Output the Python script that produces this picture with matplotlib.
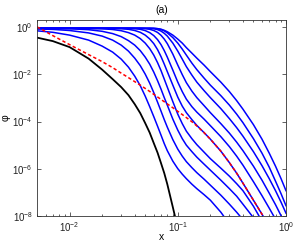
import numpy as np
import matplotlib
matplotlib.use("Agg")
import matplotlib.pyplot as plt
from matplotlib.ticker import LogLocator, NullLocator, NullFormatter

plt.rcParams['font.family'] = ['Liberation Sans', 'DejaVu Sans']

# x positions where the curves were read
x = [0.005, 0.007, 0.01, 0.015, 0.02, 0.025, 0.03, 0.035, 0.04, 0.045, 0.05,
     0.055, 0.06, 0.065, 0.07, 0.075, 0.08, 0.09, 0.1, 0.11, 0.12, 0.135, 0.15,
     0.175, 0.2, 0.25, 0.3, 0.35, 0.4, 0.5, 0.6, 0.7, 0.8, 0.9, 1.0]

# log10(phi), one list per curve (left to right)
lg_b1 = [-0.157, -0.220, -0.339, -0.551, -0.805, -1.059, -1.356, -1.695, -2.076,
         -2.479, -2.924, -3.369, -3.792, -4.195, -4.576, -4.936, -5.233, -5.678,
         -5.996, -6.229, -6.419, -6.653, -6.843, -7.097, -7.331, -7.839, -8.347]
lg_b2 = [-0.076, -0.097, -0.144, -0.246, -0.381, -0.551, -0.763, -1.017, -1.314,
         -1.631, -1.992, -2.373, -2.775, -3.178, -3.559, -3.919, -4.237, -4.767,
         -5.169, -5.466, -5.699, -5.953, -6.165, -6.441, -6.695, -7.119, -7.500,
         -7.839, -8.157]
lg_b3 = [-0.051, -0.055, -0.068, -0.110, -0.178, -0.275, -0.403, -0.572, -0.763,
         -0.996, -1.271, -1.568, -1.907, -2.267, -2.627, -2.987, -3.305, -3.898,
         -4.364, -4.725, -5.000, -5.275, -5.508, -5.805, -6.059, -6.483, -6.843,
         -7.161, -7.500, -8.072]
lg_b4 = [-0.051, -0.051, -0.051, -0.051, -0.068, -0.102, -0.153, -0.233, -0.339,
         -0.487, -0.678, -0.911, -1.186, -1.504, -1.843, -2.203, -2.542, -3.157,
         -3.686, -4.089, -4.407, -4.725, -4.979, -5.297, -5.572, -5.975, -6.314,
         -6.631, -6.928, -7.585, -8.220]
lg_b5 = [-0.051, -0.051, -0.051, -0.051, -0.051, -0.051, -0.064, -0.093, -0.144,
         -0.220, -0.339, -0.500, -0.699, -0.953, -1.250, -1.568, -1.886, -2.458,
         -2.966, -3.347, -3.623, -3.919, -4.165, -4.470, -4.746, -5.254, -5.742,
         -6.186, -6.610, -7.331, -7.924, -8.453]
lg_b6 = [-0.051, -0.051, -0.051, -0.051, -0.051, -0.051, -0.051, -0.051, -0.064,
         -0.093, -0.148, -0.233, -0.360, -0.530, -0.742, -0.996, -1.271, -1.822,
         -2.331, -2.733, -3.051, -3.369, -3.602, -3.898, -4.174, -4.640, -5.064,
         -5.466, -5.847, -6.547, -7.140, -7.669, -8.136]
lg_b7 = [-0.051, -0.051, -0.051, -0.051, -0.051, -0.051, -0.051, -0.051, -0.051,
         -0.051, -0.064, -0.093, -0.144, -0.225, -0.347, -0.508, -0.699, -1.144,
         -1.610, -2.013, -2.352, -2.712, -2.987, -3.326, -3.623, -4.089, -4.492,
         -4.873, -5.233, -5.890, -6.483, -7.034, -7.521, -7.987, -8.432]
lg_b8 = [-0.051, -0.051, -0.051, -0.051, -0.051, -0.051, -0.051, -0.051, -0.051,
         -0.051, -0.051, -0.051, -0.068, -0.106, -0.169, -0.263, -0.381, -0.678,
         -1.017, -1.356, -1.674, -2.034, -2.331, -2.691, -2.987, -3.453, -3.877,
         -4.258, -4.619, -5.275, -5.869, -6.419, -6.928, -7.415, -7.881]
lg_b9 = [-0.051, -0.051, -0.051, -0.051, -0.051, -0.051, -0.051, -0.051, -0.051,
         -0.051, -0.051, -0.051, -0.051, -0.068, -0.102, -0.161, -0.242, -0.445,
         -0.678, -0.932, -1.186, -1.525, -1.801, -2.161, -2.458, -2.903, -3.305,
         -3.686, -4.047, -4.725, -5.339, -5.932, -6.525, -7.055, -7.564]
lg_b10 = [-0.051, -0.051, -0.051, -0.051, -0.051, -0.051, -0.051, -0.051, -0.051,
          -0.051, -0.051, -0.051, -0.051, -0.064, -0.089, -0.136, -0.195, -0.339,
          -0.508, -0.678, -0.869, -1.102, -1.314, -1.610, -1.886, -2.331, -2.733,
          -3.114, -3.475, -4.131, -4.746, -5.339, -5.890, -6.419, -6.928]
blue_curves = [lg_b1, lg_b2, lg_b3, lg_b4, lg_b5, lg_b6, lg_b7, lg_b8, lg_b9, lg_b10]

lg_black = [-0.445, -0.593, -0.847, -1.335, -1.801, -2.203, -2.542, -2.881, -3.263,
            -3.644, -4.068, -4.470, -4.915, -5.318, -5.763, -6.186, -6.653, -7.627,
            -8.517]
lg_red = [0.01, -0.360, -0.742, -1.165, -1.462, -1.716, -1.949, -2.140, -2.309,
          -2.458, -2.597, -2.725, -2.847, -2.958, -3.064, -3.161, -3.254, -3.415,
          -3.568, -3.703, -3.831, -4.008, -4.186, -4.470, -4.746, -5.254, -5.742,
          -6.186, -6.610, -7.331, -7.924, -8.453]

fig = plt.figure(figsize=(2.95, 2.43), dpi=100)
ax = fig.add_axes([37/295, 27/243, 249/295, 196/243])

for lg in blue_curves:
    ax.plot(x[:len(lg)], 10.0 ** np.array(lg), color="#0000ff", lw=1.1)
ax.plot(x[:len(lg_black)], 10.0 ** np.array(lg_black), color="k", lw=1.3)
ax.plot(x[:len(lg_red)], 10.0 ** np.array(lg_red), color="#ff0000", lw=1.1,
        dashes=(2.2, 1.6))

ax.set_xscale("log")
ax.set_yscale("log")
ax.set_xlim(0.005, 1)
ax.set_ylim(1e-8, 2)
ax.set_yticks([1e-8, 1e-6, 1e-4, 1e-2, 1])
ax.yaxis.set_minor_locator(NullLocator())
ax.set_xticks([1e-2, 1e-1, 1])
ax.xaxis.set_minor_locator(LogLocator(base=10, subs=np.arange(2, 10)))
ax.xaxis.set_minor_formatter(NullFormatter())

ax.tick_params(which="both", direction="in", top=True, right=True, labelsize=7,
               width=0.5, colors="#222222", pad=3)
ax.tick_params(which="major", length=3)
ax.tick_params(which="minor", length=1.6)
for s in ax.spines.values():
    s.set_linewidth(0.6)
    s.set_color("#333333")

ax.set_title("(a)", fontsize=7.5, pad=5)
ax.set_xlabel("x", fontsize=7.5)
ax.xaxis.set_label_coords(0.5, -0.08)
ax.set_ylabel("φ", fontsize=7.5)
ax.yaxis.set_label_coords(-0.105, 0.5)

fig.savefig("out.png", dpi=100, facecolor="white")
